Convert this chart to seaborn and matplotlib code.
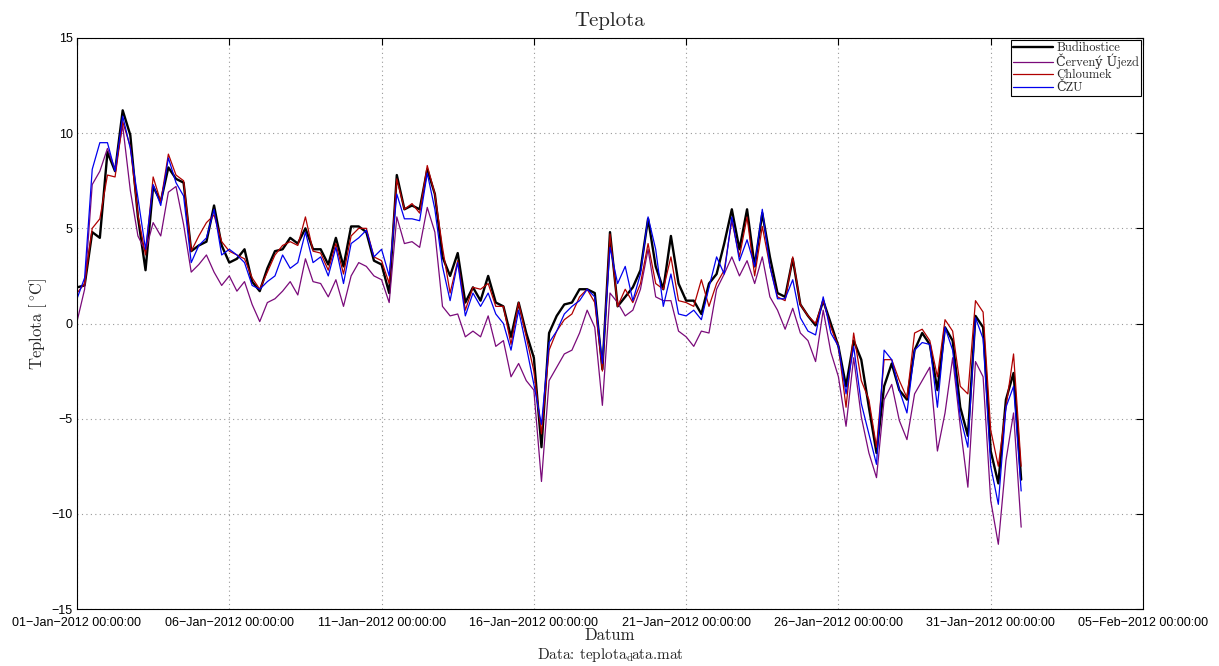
import matplotlib
matplotlib.use('Agg')
import matplotlib.pyplot as plt
import matplotlib.dates as mdates
import pandas as pd
import seaborn as sns

# mereni po 6 hodinach od 01-Jan-2012 00:00
casy = pd.date_range('2012-01-01', periods=125, freq='6h')

budihostice = [
    1.9, 2.0, 4.8, 4.5, 9.0, 8.0, 11.2, 9.9,
    5.6, 2.8, 7.2, 6.4, 8.2, 7.6, 7.4, 3.8,
    4.1, 4.3, 6.2, 4.1, 3.2, 3.4, 3.9, 2.2,
    1.7, 2.9, 3.8, 3.9, 4.5, 4.2, 5.0, 3.9,
    3.9, 3.1, 4.5, 3.0, 5.1, 5.1, 4.8, 3.3,
    3.1, 1.6, 7.8, 6.0, 6.2, 6.0, 8.1, 6.8,
    3.5, 2.5, 3.7, 1.1, 1.9, 1.2, 2.5, 1.1,
    0.9, -0.7, 1.1, -0.5, -1.8, -6.5, -0.5, 0.4,
    1.0, 1.1, 1.8, 1.8, 1.6, -2.4, 4.8, 0.9,
    1.4, 1.9, 2.8, 5.5, 3.0, 1.8, 4.6, 2.1,
    1.2, 1.2, 0.5, 2.1, 2.6, 4.2, 6.0, 3.9,
    6.0, 3.0, 5.8, 3.5, 1.6, 1.4, 3.4, 1.0,
    0.4, -0.1, 1.2, 0.0, -1.2, -3.3, -0.9, -1.9,
    -4.4, -6.8, -3.3, -2.1, -3.5, -4.0, -1.4, -0.5,
    -1.1, -3.5, -0.2, -0.9, -4.4, -5.9, 0.4, -0.2,
    -6.7, -8.4, -4.0, -2.6, -8.2,
]

cerveny_ujezd = [
    0.1, 1.8, 7.3, 8.0, 9.2, 8.1, 10.4, 7.0,
    4.6, 3.8, 5.3, 4.6, 6.9, 7.2, 5.2, 2.7,
    3.1, 3.6, 2.7, 2.0, 2.5, 1.7, 2.2, 1.0,
    0.1, 1.1, 1.3, 1.7, 2.2, 1.5, 3.4, 2.2,
    2.1, 1.4, 2.3, 0.9, 2.5, 3.2, 3.0, 2.5,
    2.3, 1.1, 5.6, 4.2, 4.3, 4.0, 6.1, 4.8,
    0.9, 0.4, 0.5, -0.7, -0.4, -0.7, 0.4, -1.2,
    -0.9, -2.8, -2.1, -3.0, -3.5, -8.3, -3.0, -2.3,
    -1.6, -1.4, -0.5, 0.7, -0.2, -4.3, 1.6, 1.1,
    0.4, 0.7, 1.8, 3.9, 1.4, 1.2, 1.2, -0.4,
    -0.7, -1.2, -0.4, -0.5, 1.8, 2.6, 3.5, 2.5,
    3.3, 2.1, 3.5, 1.4, 0.7, -0.3, 0.8, -0.5,
    -0.9, -2.0, 0.7, -1.5, -2.8, -5.4, -1.8, -4.9,
    -6.8, -8.1, -4.0, -3.2, -5.1, -6.1, -3.7, -3.0,
    -2.3, -6.7, -4.7, -1.8, -5.4, -8.6, -2.0, -2.8,
    -9.3, -11.6, -7.2, -4.7, -10.7,
]

chloumek = [
    1.6, 2.1, 5.0, 5.5, 7.8, 7.7, 10.6, 9.3,
    5.7, 3.6, 7.7, 6.4, 8.9, 7.8, 7.5, 3.8,
    4.6, 5.3, 5.7, 4.3, 3.8, 3.6, 3.4, 2.4,
    1.8, 2.7, 3.6, 4.1, 4.3, 4.1, 5.6, 3.8,
    3.7, 2.8, 4.2, 2.6, 4.6, 5.0, 5.0, 3.5,
    3.3, 2.1, 7.6, 6.0, 6.3, 5.8, 8.3, 6.8,
    4.0, 1.6, 3.3, 0.7, 1.9, 1.8, 2.1, 0.9,
    0.9, -1.1, 1.1, -0.7, -2.5, -5.8, -1.4, -0.4,
    0.2, 0.5, 1.4, 1.8, 1.1, -2.5, 4.7, 0.9,
    1.8, 1.1, 2.1, 4.2, 2.1, 1.8, 3.5, 1.2,
    1.1, 0.9, 2.3, 0.9, 2.1, 2.8, 5.4, 3.5,
    5.6, 2.5, 5.1, 3.0, 1.4, 1.2, 3.5, 1.0,
    0.4, 0.0, 1.2, -0.2, -1.2, -4.4, -0.5, -3.0,
    -4.0, -6.5, -1.9, -1.9, -3.0, -3.9, -0.5, -0.3,
    -0.9, -2.8, 0.2, -0.4, -3.3, -3.7, 1.2, 0.6,
    -5.6, -7.5, -4.4, -1.6, -7.5,
]

czu = [
    1.3, 2.4, 8.1, 9.5, 9.5, 8.0, 10.9, 9.2,
    6.6, 3.9, 7.3, 6.2, 8.7, 7.4, 6.7, 3.2,
    4.1, 4.5, 6.0, 3.6, 3.9, 3.6, 3.2, 2.0,
    1.8, 2.2, 2.5, 3.6, 2.9, 3.2, 4.8, 3.2,
    3.5, 2.5, 4.0, 2.1, 4.2, 4.5, 4.9, 3.5,
    3.9, 2.5, 6.8, 5.5, 5.5, 5.4, 7.9, 6.0,
    3.0, 1.2, 3.2, 0.4, 1.6, 0.9, 1.6, 0.5,
    0.0, -1.4, 0.7, -1.2, -3.2, -5.3, -1.0, -0.4,
    0.5, 0.9, 1.2, 1.8, 1.4, -2.1, 4.0, 2.1,
    3.0, 1.2, 2.6, 5.6, 3.9, 0.9, 2.6, 0.5,
    0.4, 0.7, 0.2, 1.9, 3.5, 2.6, 5.6, 3.3,
    4.4, 3.0, 6.0, 3.0, 1.3, 1.3, 2.3, 0.3,
    -0.4, -0.6, 1.4, -0.5, -1.2, -3.7, -1.2, -4.2,
    -5.8, -7.4, -1.4, -1.9, -3.5, -4.7, -1.4, -1.0,
    -1.1, -4.4, -0.2, -1.4, -4.9, -6.5, 0.3, -0.8,
    -7.5, -9.5, -4.4, -3.3, -8.8,
]

stanice = ['Budihostice', 'Červený Újezd', 'Chloumek', 'ČZU']
barvy = ['#000000', '#7a0a7a', '#b00000', '#0000ee']
tloustky = [1.7, 0.9, 0.9, 0.9]

sns.set_style('white')
plt.rcParams['mathtext.fontset'] = 'cm'
plt.rcParams['axes.unicode_minus'] = True
serif = ['cmr10', 'DejaVu Serif']
sans = ['Liberation Sans', 'DejaVu Sans']

fig = plt.figure(figsize=(12.19, 6.66), dpi=100)
ax = fig.add_axes([77 / 1219, 1 - 609 / 666, (1143 - 77) / 1219, (609 - 38) / 666])

for jmeno, hodnoty, barva, lw in zip(stanice, [budihostice, cerveny_ujezd, chloumek, czu], barvy, tloustky):
    sns.lineplot(x=casy, y=hodnoty, ax=ax, color=barva, linewidth=lw, label=jmeno)

ax.set_xlim(pd.Timestamp('2012-01-01'), pd.Timestamp('2012-02-05'))
ax.set_ylim(-15, 15)
ax.set_xticks(pd.date_range('2012-01-01', '2012-02-05', freq='5D'))
ax.xaxis.set_major_formatter(mdates.DateFormatter('%d\u2212%b\u2212%Y %H:%M:%S'))
ax.set_yticks(range(-15, 16, 5))
ax.grid(True, linestyle=(0, (1, 3)), color='#999999', linewidth=0.8)
ax.tick_params(direction='in', length=5, width=0.8, top=True, right=True,
               labelsize=9, colors='black', pad=3)
ax.tick_params(axis='x', pad=6)
for lab in ax.get_xticklabels() + ax.get_yticklabels():
    lab.set_family(sans)
for sp in ax.spines.values():
    sp.set_color('black')
    sp.set_linewidth(0.8)

ax.set_title('Teplota', family=serif, fontsize=15, pad=9)
ax.set_xlabel('Datum', family=serif, fontsize=12, labelpad=-1)
ax.set_ylabel(r'Teplota [$^\circ\!$C]', family=serif, fontsize=12, labelpad=2)
fig.text(610 / 1219, 1 - 655 / 666, r'Data: $\mathrm{teplota}_\mathrm{d}\!$ata.mat',
         family=serif, fontsize=11, ha='center', va='center')

leg = ax.legend(loc='upper right', prop={'family': serif, 'size': 9},
                frameon=True, fancybox=False, edgecolor='black', framealpha=1,
                borderpad=0.15, labelspacing=0.0, handlelength=3.2,
                handletextpad=0.3, borderaxespad=0.15)
leg.get_frame().set_linewidth(0.8)

fig.savefig('out.png', dpi=100)
